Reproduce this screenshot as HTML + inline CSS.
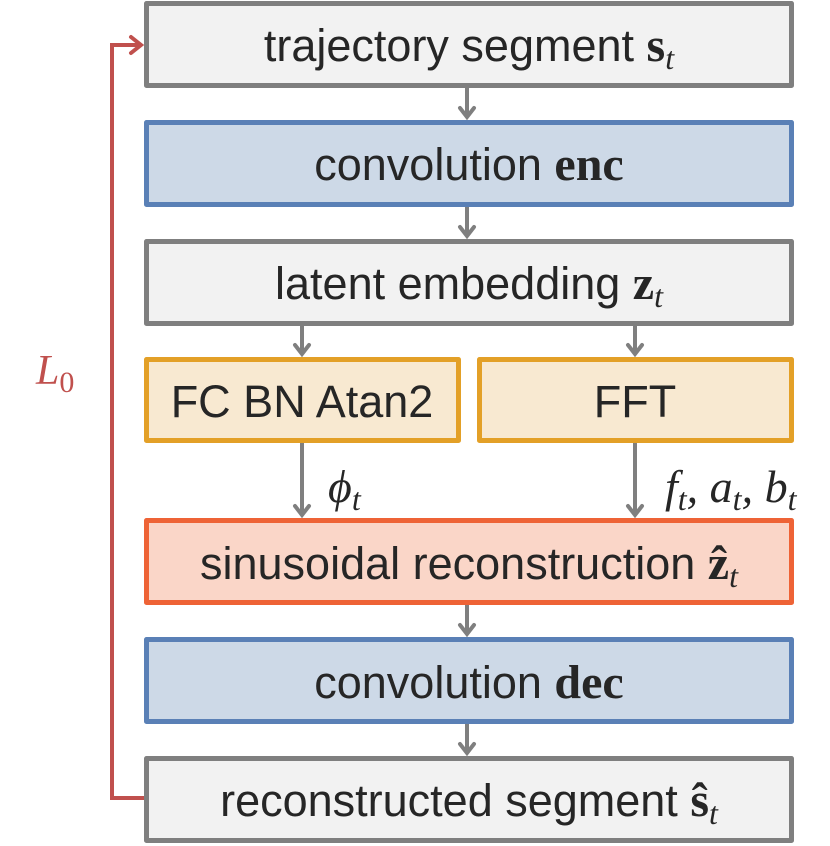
<!DOCTYPE html>
<html><head><meta charset="utf-8"><style>
html,body{margin:0;padding:0;background:#fff;}
svg{display:block;}
text{font-family:"Liberation Sans","DejaVu Sans",sans-serif;fill:#262626;}
.m{font-family:"Liberation Serif","DejaVu Serif",serif;}
</style></head><body>
<svg width="830" height="846" viewBox="0 0 830 846" xmlns="http://www.w3.org/2000/svg">
<g stroke-width="5" stroke-linejoin="round">
<rect x="146.5" y="3.5" width="645" height="82" fill="#f2f2f2" stroke="#7f7f7f"/>
<rect x="146.5" y="122.5" width="645" height="82" fill="#cdd9e7" stroke="#5a80b6"/>
<rect x="146.5" y="241.5" width="645" height="82" fill="#f2f2f2" stroke="#7f7f7f"/>
<rect x="146.5" y="359.5" width="312" height="81" fill="#f8e9d1" stroke="#e3a027"/>
<rect x="479.5" y="359.5" width="312" height="81" fill="#f8e9d1" stroke="#e3a027"/>
<rect x="146.5" y="520.5" width="645" height="82" fill="#fad6c8" stroke="#ee6336"/>
<rect x="146.5" y="639.5" width="645" height="82" fill="#cdd9e7" stroke="#5a80b6"/>
<rect x="146.5" y="758.5" width="645" height="82" fill="#f2f2f2" stroke="#7f7f7f"/>
</g>
<g stroke="#7f7f7f" stroke-width="4" fill="none">
<line x1="467" y1="88" x2="467" y2="117"/>
<line x1="467" y1="207" x2="467" y2="236"/>
<line x1="302" y1="326" x2="302" y2="354"/>
<line x1="635" y1="326" x2="635" y2="354"/>
<line x1="302" y1="443" x2="302" y2="515"/>
<line x1="635" y1="443" x2="635" y2="515"/>
<line x1="467" y1="605" x2="467" y2="634"/>
<line x1="467" y1="724" x2="467" y2="753"/>
</g>
<g stroke="#7f7f7f" stroke-width="4" fill="none" stroke-linecap="round">
<polyline points="460,108 467,117 474,108"/>
<polyline points="460,227 467,236 474,227"/>
<polyline points="295,345 302,354 309,345"/>
<polyline points="628,345 635,354 642,345"/>
<polyline points="295,506 302,515 309,506"/>
<polyline points="628,506 635,515 642,506"/>
<polyline points="460,625 467,634 474,625"/>
<polyline points="460,744 467,753 474,744"/>
</g>
<polyline points="144,798 112,798 112,45 140,45" fill="none" stroke="#c0504d" stroke-width="4"/>
<polyline points="131,37 141,45 131,53" fill="none" stroke="#c0504d" stroke-width="4" stroke-linecap="round"/>
<text x="36" y="384" class="m" font-size="42" font-style="italic" style="fill:#c0504d">L<tspan font-size="30" font-style="normal" dy="8">0</tspan></text>
<text x="469" y="61" font-size="45" text-anchor="middle">trajectory segment <tspan class="m" font-weight="bold" font-size="48">s</tspan><tspan class="m" font-style="italic" font-size="32" dy="8">t</tspan></text>
<text x="469" y="180" font-size="45" text-anchor="middle">convolution <tspan class="m" font-weight="bold" font-size="48">enc</tspan></text>
<text x="469" y="299" font-size="45" text-anchor="middle">latent embedding <tspan class="m" font-weight="bold" font-size="48">z</tspan><tspan class="m" font-style="italic" font-size="32" dy="8">t</tspan></text>
<text x="302" y="417" font-size="45" text-anchor="middle">FC BN Atan2</text>
<text x="635" y="417" font-size="45" text-anchor="middle">FFT</text>
<text x="328" y="502" class="m" font-size="46" font-style="italic">ϕ<tspan font-size="32" dy="8">t</tspan></text>
<text x="665" y="502" class="m" font-size="46" font-style="italic">f<tspan font-size="32" dy="8">t</tspan><tspan dy="-8">, a</tspan><tspan font-size="32" dy="8">t</tspan><tspan dy="-8">, b</tspan><tspan font-size="32" dy="8">t</tspan></text>
<text x="469" y="579" font-size="45" text-anchor="middle">sinusoidal reconstruction <tspan class="m" font-weight="bold" font-size="48">ẑ</tspan><tspan class="m" font-style="italic" font-size="32" dy="8">t</tspan></text>
<text x="469" y="698" font-size="45" text-anchor="middle">convolution <tspan class="m" font-weight="bold" font-size="48">dec</tspan></text>
<text x="469" y="816" font-size="45" text-anchor="middle">reconstructed segment <tspan class="m" font-weight="bold" font-size="48">ŝ</tspan><tspan class="m" font-style="italic" font-size="32" dy="8">t</tspan></text>
</svg>
</body></html>
